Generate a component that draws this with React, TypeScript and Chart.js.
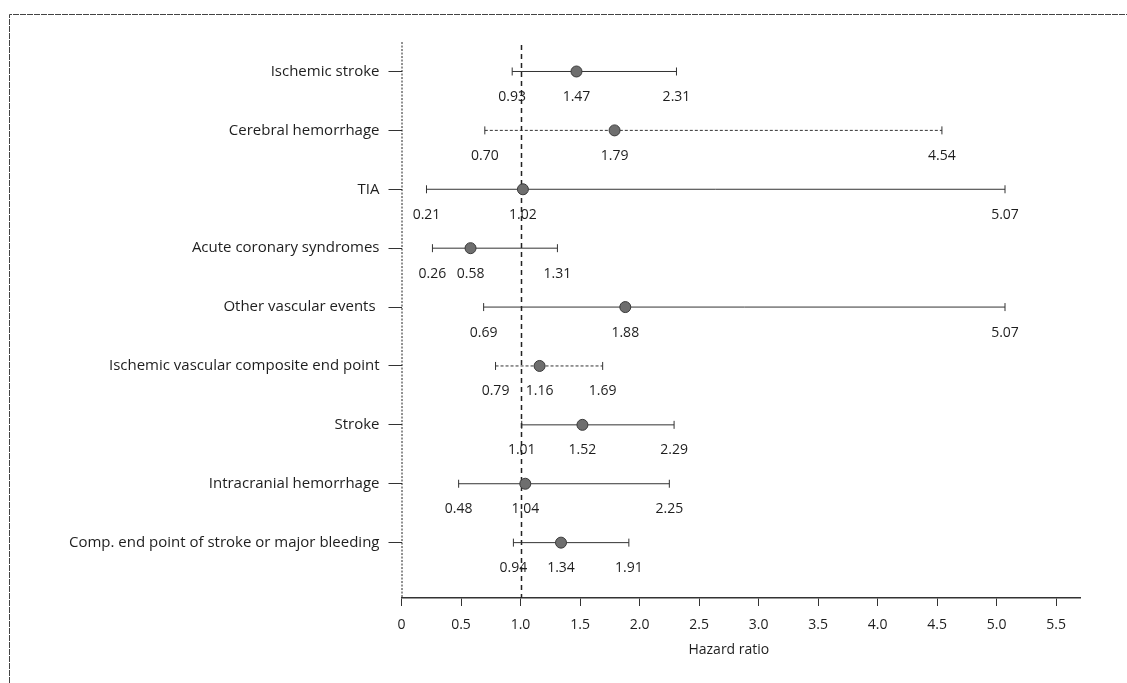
import React, { useEffect, useRef } from "react";
import { Chart, registerables } from "chart.js";

Chart.register(...registerables);

const categories = [
  "Ischemic stroke",
  "Cerebral hemorrhage",
  "TIA",
  "Acute coronary syndromes",
  "Other vascular events ",
  "Ischemic vascular composite end point",
  "Stroke",
  "Intracranial hemorrhage",
  "Comp. end point of stroke or major bleeding",
];
const hazardRatio = [1.47, 1.79, 1.02, 0.58, 1.88, 1.16, 1.52, 1.04, 1.34];
const lowerCI = [0.93, 0.7, 0.21, 0.26, 0.69, 0.79, 1.01, 0.48, 0.94];
const upperCI = [2.31, 4.54, 5.07, 1.31, 5.07, 1.69, 2.29, 2.25, 1.91];
const dashedRows = [false, true, false, false, false, true, false, false, false];
const xTicks = [0, 0.5, 1, 1.5, 2, 2.5, 3, 3.5, 4, 4.5, 5, 5.5];
const refValue = 1.0;
const xTitle = "Hazard ratio";

const FONT = "'Open Sans', 'Noto Sans', sans-serif";
const LABEL_SIZE = 15;
const NUM_SIZE = 14;
const INK = "#1e1e1e";

export default function App() {
  const ref = useRef<HTMLCanvasElement | null>(null);

  useEffect(() => {
    if (!ref.current) return;

    const whiskerSets = categories.map((_, i) => ({
      type: "scatter" as const,
      data: [
        { x: lowerCI[i], y: i + 1 },
        { x: upperCI[i], y: i + 1 },
      ],
      showLine: true,
      borderColor: "#333",
      borderWidth: 1,
      borderDash: dashedRows[i] ? [3, 2] : [],
      pointStyle: "line" as const,
      rotation: 90,
      pointRadius: 4,
      pointBorderWidth: 1,
      pointBorderColor: "#333",
      order: 2,
    }));

    const pointSet = {
      type: "scatter" as const,
      data: hazardRatio.map((v, i) => ({ x: v, y: i + 1 })),
      pointRadius: 5.5,
      pointBackgroundColor: "#6e6e6e",
      pointBorderColor: "#3a3a3a",
      pointBorderWidth: 1,
      showLine: false,
      order: 1,
    };

    const overlay = {
      id: "overlay",
      beforeDatasetsDraw(chart: any) {
        const ctx = chart.ctx;
        const xs = chart.scales.x;
        const ys = chart.scales.y;
        const area = chart.chartArea;
        ctx.save();
        // frame
        ctx.strokeStyle = "#444";
        ctx.lineWidth = 1;
        ctx.setLineDash([6, 1]);
        ctx.beginPath();
        ctx.moveTo(9.5, 683);
        ctx.lineTo(9.5, 14.5);
        ctx.lineTo(1127, 14.5);
        ctx.stroke();
        // y axis (dashed)
        ctx.strokeStyle = "#222";
        ctx.setLineDash([2, 1.5]);
        ctx.beginPath();
        const yTop = ys.getPixelForValue(0.5);
        ctx.moveTo(area.left + 0.5, yTop);
        ctx.lineTo(area.left + 0.5, area.bottom);
        ctx.stroke();
        // reference line at 1.0
        const rx = Math.round(xs.getPixelForValue(refValue)) + 0.5;
        ctx.lineWidth = 1.5;
        ctx.setLineDash([5, 4]);
        ctx.beginPath();
        ctx.moveTo(rx, ys.getPixelForValue(0.55));
        ctx.lineTo(rx, area.bottom);
        ctx.stroke();
        ctx.restore();
      },
      afterDatasetsDraw(chart: any) {
        const ctx = chart.ctx;
        const xs = chart.scales.x;
        const ys = chart.scales.y;
        ctx.save();
        ctx.fillStyle = INK;
        ctx.font = `${NUM_SIZE}px ${FONT}`;
        ctx.textAlign = "center";
        ctx.textBaseline = "middle";
        categories.forEach((_, i) => {
          const y = ys.getPixelForValue(i + 1) + 25.5;
          [lowerCI[i], hazardRatio[i], upperCI[i]].forEach((v) => {
            ctx.fillText(v.toFixed(2), xs.getPixelForValue(v), y);
          });
        });
        // axis title centred over the ticked range
        const tx = (xs.getPixelForValue(xTicks[0]) + xs.getPixelForValue(xTicks[xTicks.length - 1])) / 2;
        ctx.fillText(xTitle, tx, 650);
        ctx.restore();
      },
    };

    const chart = new Chart(ref.current, {
      type: "scatter",
      data: { datasets: [...whiskerSets, pointSet] as any },
      options: {
        animation: false,
        responsive: false,
        layout: { padding: { top: 12.6, right: 47, bottom: 0, left: 0 } },
        plugins: { legend: { display: false }, tooltip: { enabled: false } },
        scales: {
          x: {
            type: "linear",
            min: 0,
            max: 5.7,
            afterBuildTicks: (s: any) => {
              s.ticks = xTicks.map((v) => ({ value: v }));
            },
            afterFit: (s: any) => {
              s.height = 85;
              s.paddingLeft = 0;
              s.paddingRight = 0;
            },
            ticks: {
              autoSkip: false,
              maxRotation: 0,
              padding: 11,
              color: INK,
              font: { family: FONT, size: NUM_SIZE },
              callback: (v: any) => (v === 0 ? "0" : Number(v).toFixed(1)),
            },
            grid: {
              drawOnChartArea: false,
              drawTicks: true,
              tickLength: 8,
              color: "#333",
            },
            border: { display: true, color: "#333", width: 1.5 },
          },
          y: {
            type: "linear",
            reverse: true,
            min: 0,
            max: 9.94,
            afterBuildTicks: (s: any) => {
              s.ticks = categories.map((_, i) => ({ value: i + 1 }));
            },
            afterFit: (s: any) => {
              s.width = 401.5;
              s.paddingTop = 0;
              s.paddingBottom = 0;
            },
            ticks: {
              autoSkip: false,
              padding: 9,
              color: INK,
              font: { family: FONT, size: LABEL_SIZE },
              callback: (v: any) => categories[Number(v) - 1] ?? "",
            },
            grid: {
              drawOnChartArea: false,
              drawTicks: true,
              tickLength: 13,
              color: "#333",
            },
            border: { display: false },
          },
        },
      },
      plugins: [overlay],
    });

    return () => chart.destroy();
  }, []);

  return (
    <div style={{ position: "absolute", left: 0, top: 0, width: 1127, height: 683, background: "#fff" }}>
      <canvas ref={ref} width={1127} height={683} style={{ display: "block" }} />
    </div>
  );
}
